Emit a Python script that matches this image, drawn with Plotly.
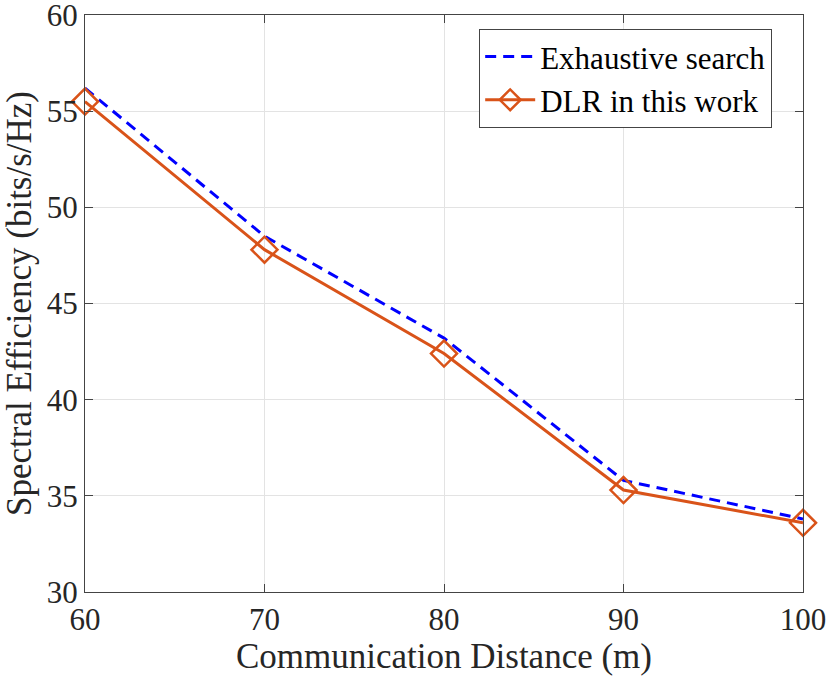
import plotly.graph_objects as go

distance = [60, 70, 80, 90, 100]
exhaustive = [56.2, 48.5, 43.2, 35.8, 33.8]
dlr = [55.5, 47.8, 42.4, 35.3, 33.6]

font = "Liberation Serif"

fig = go.Figure()
fig.add_trace(go.Scatter(x=distance, y=exhaustive, mode="lines", name="Exhaustive search",
                         cliponaxis=False,
                         line=dict(color="#0000FF", width=3, dash="11px,7px")))
fig.add_trace(go.Scatter(x=distance, y=dlr, mode="lines+markers", name="DLR in this work",
                         cliponaxis=False,
                         line=dict(color="#D95319", width=3),
                         marker=dict(symbol="diamond-open", size=20, color="#D95319",
                                     line=dict(width=2.5, color="#D95319"))))

axis_style = dict(showline=True, linecolor="#444444", linewidth=1.2, mirror="ticks",
                  ticks="inside", ticklen=8, tickcolor="#444444",
                  showgrid=True, gridcolor="#E3E3E3", gridwidth=1, zeroline=False,
                  ticklabeloverflow="allow", automargin=False,
                  tickfont=dict(family=font, size=31, color="#262626"))

fig.update_xaxes(range=[60, 100], dtick=10,
                 title=dict(text="Communication Distance (m)", standoff=6,
                            font=dict(family=font, size=35, color="#262626")),
                 **axis_style)
fig.update_yaxes(range=[30, 60], dtick=5,
                 title=dict(text="Spectral Efficiency (bits/s/Hz)", standoff=4,
                            font=dict(family=font, size=35, color="#262626")),
                 **axis_style)

fig.update_layout(
    width=831, height=685,
    margin=dict(l=85, r=28, t=15, b=93),
    plot_bgcolor="white", paper_bgcolor="white",
    font=dict(family=font, color="#000000"),
    legend=dict(x=0.549, y=0.976, xanchor="left", yanchor="top",
                bgcolor="white", bordercolor="#444444", borderwidth=1,
                font=dict(family=font, size=31, color="#000000"),
                itemwidth=50, tracegroupgap=0),
    showlegend=True,
)

# drop the default 8px body margin so the figure sits at the page corner
fig.write_html("out.html", config={"displayModeBar": False},
               post_script="document.body.style.margin='0';")
